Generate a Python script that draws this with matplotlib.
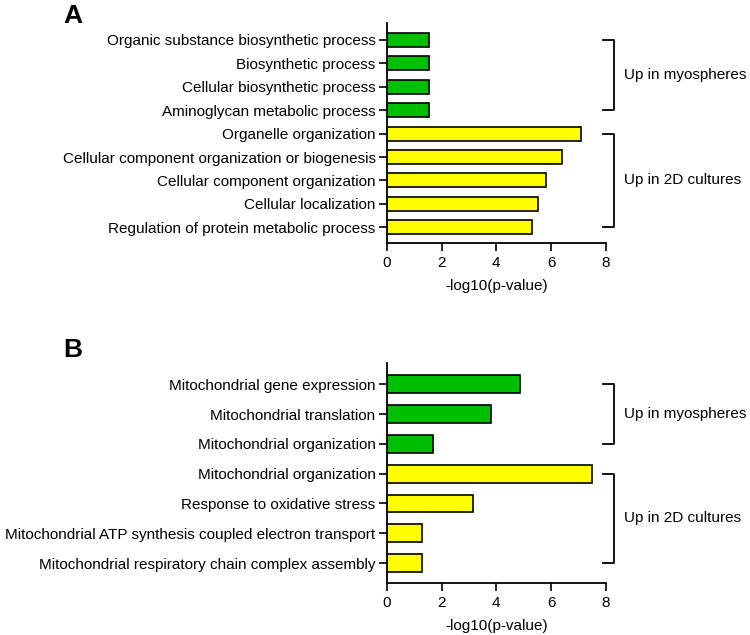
import matplotlib.pyplot as plt

plt.rcParams["font.family"] = ["Liberation Sans", "DejaVu Sans"]

# panel A
a_terms = ["Organic substance biosynthetic process", "Biosynthetic process",
           "Cellular biosynthetic process", "Aminoglycan metabolic process",
           "Organelle organization", "Cellular component organization or biogenesis",
           "Cellular component organization", "Cellular localization",
           "Regulation of protein metabolic process"]
a_values = [1.54, 1.54, 1.54, 1.54, 7.08, 6.38, 5.81, 5.51, 5.29]
a_groups = ["myo"] * 4 + ["2d"] * 5

# panel B
b_terms = ["Mitochondrial gene expression", "Mitochondrial translation",
           "Mitochondrial organization", "Mitochondrial organization",
           "Response to oxidative stress",
           "Mitochondrial ATP synthesis coupled electron transport",
           "Mitochondrial respiratory chain complex assembly"]
b_values = [4.88, 3.80, 1.68, 7.48, 3.15, 1.30, 1.30]
b_groups = ["myo"] * 3 + ["2d"] * 4

group_labels = {"myo": "Up in myospheres", "2d": "Up in 2D cultures"}
colors = {"myo": "#00BE00", "2d": "#FFFF00"}
FS = 11


def draw_panel(ax, terms, values, groups):
    ys = range(len(terms))
    ax.barh(ys, values, height=0.6, color=[colors[g] for g in groups],
            edgecolor="black", linewidth=1.2)
    ax.set_yticks(list(ys))
    ax.set_yticklabels(terms, fontsize=FS)
    ax.set_ylim(len(terms) - 1 + 0.67, -0.72)
    ax.set_xlim(0, 8)
    ax.set_xticks([0, 2, 4, 6, 8])
    ax.tick_params(axis="x", labelsize=FS, length=6, width=1.2)
    ax.tick_params(axis="y", length=6, width=1.2, pad=2)
    ax.set_xlabel("-log10(p-value)", fontsize=FS, labelpad=6)
    for s in ("top", "right"):
        ax.spines[s].set_visible(False)
    for s in ("left", "bottom"):
        ax.spines[s].set_linewidth(1.3)

    # brackets for each group
    for g in ("myo", "2d"):
        idx = [i for i, gg in enumerate(groups) if gg == g]
        y0, y1 = idx[0], idx[-1]
        x0, x1 = 7.88, 8.3
        ax.plot([x0, x1, x1, x0], [y0, y0, y1, y1], color="black", lw=1.3,
                clip_on=False)
        ax.text(8.65, (y0 + y1) / 2, group_labels[g], fontsize=FS,
                va="center", ha="left")


fig = plt.figure(figsize=(7.5, 6.35), dpi=100)
ax_a = fig.add_axes([0.5156, 0.6173, 0.2924, 0.3465])
ax_b = fig.add_axes([0.5156, 0.0819, 0.2924, 0.3465])
draw_panel(ax_a, a_terms, a_values, a_groups)
draw_panel(ax_b, b_terms, b_values, b_groups)

fig.text(0.097, 0.975, "A", fontsize=19, fontweight="bold", ha="center", va="center")
fig.text(0.097, 0.449, "B", fontsize=19, fontweight="bold", ha="center", va="center")

fig.savefig("out.png", dpi=100)
